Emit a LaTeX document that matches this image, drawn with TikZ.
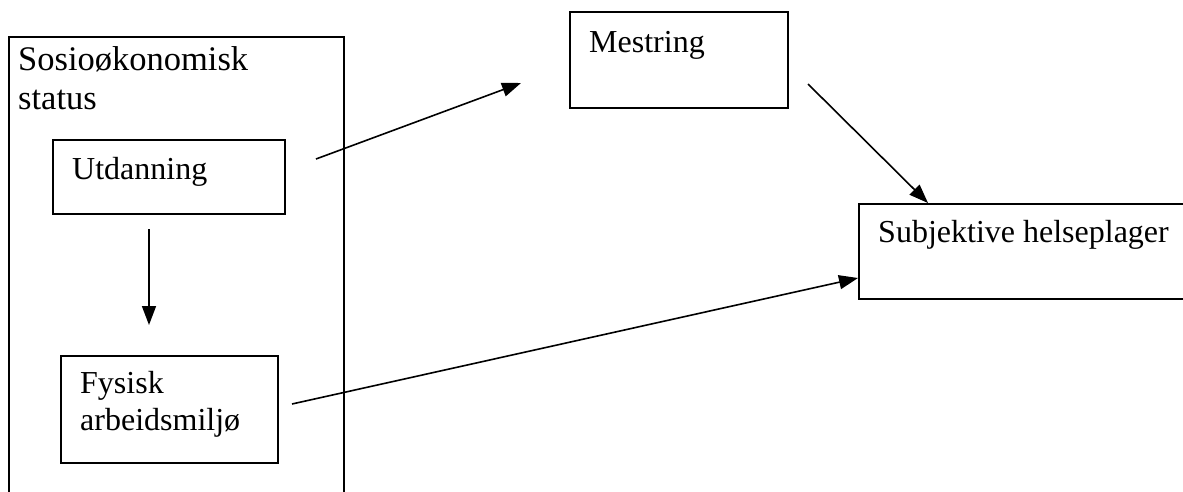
\documentclass[tikz,border=0pt]{standalone}
\usepackage{fontspec}
\setmainfont{Liberation Serif}
\usetikzlibrary{arrows.meta}
\tikzset{
  box/.style={draw, line width=1.6pt, inner sep=0pt, anchor=north west},
  txt/.style={inner sep=0pt, anchor=base west, font=\fontsize{32}{38}\selectfont},
  bigtxt/.style={txt, font=\fontsize{34.5}{40}\selectfont},
  conn/.style={line width=1.6pt, -{Triangle[length=19pt,width=14pt]}}
}
\begin{document}
\begin{tikzpicture}[x=1pt,y=1pt]
\useasboundingbox (0,0) rectangle (1183,-491);
\clip (0,0) rectangle (1183,-491);
% outer group box (open at bottom of picture)
\draw[line width=1.6pt] (9,-500) -- (9,-37) -- (344,-37) -- (344,-500);
\node[bigtxt] (ses1) at (18,-70) {Sosioøkonomisk};
\node[bigtxt] (ses2) at (18,-109) {status};
% boxes
\node[box, minimum width=232pt, minimum height=74pt] (utd) at (52,-139) {};
\node[txt] (utdt) at (72,-179) {Utdanning};
\node[box, minimum width=217pt, minimum height=107pt] (fys) at (60,-355) {};
\node[txt] (fyst1) at (80,-393) {Fysisk};
\node[txt] (fyst2) at (80,-430) {arbeidsmiljø};
\node[box, minimum width=218pt, minimum height=96pt] (mes) at (569,-11) {};
\node[txt] (mest) at (589,-52) {Mestring};
\node[box, minimum width=340pt, minimum height=95pt] (sub) at (858,-203) {};
\node[txt] (subt) at (878,-242) {Subjektive helseplager};
% connector end points
\coordinate (a1) at (149,-229);
\coordinate (a2) at (149,-325);
\coordinate (b1) at (316,-159);
\coordinate (b2) at (521,-83);
\coordinate (c1) at (808,-84);
\coordinate (c2) at (928,-203);
\coordinate (d1) at (292,-404);
\coordinate (d2) at (858,-278);
\draw[conn] (a1) -- (a2);
\draw[conn] (b1) -- (b2);
\draw[conn] (c1) -- (c2);
\draw[conn] (d1) -- (d2);
\end{tikzpicture}
\end{document}
